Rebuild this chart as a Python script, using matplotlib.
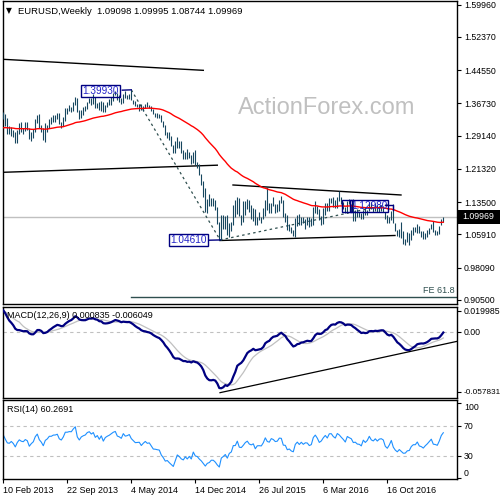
import numpy as np
import pandas as pd
import matplotlib
matplotlib.use("Agg")
import matplotlib.pyplot as plt
from matplotlib.patches import Rectangle

plt.rcParams["font.family"] = ["Liberation Sans", "DejaVu Sans"]

# ---------------- data (weekly EURUSD) ----------------
week_start = "2013-02-10"

close = [
    # 2013
    1.3363, 1.3190, 1.3020, 1.3000, 1.3075, 1.2985, 1.2820, 1.2995, 1.3110, 1.3050,
    1.3030, 1.3115, 1.3070, 1.2835, 1.2930, 1.3000, 1.3220, 1.3345, 1.3120, 1.3010,
    1.2830, 1.3070, 1.3145, 1.3280, 1.3280, 1.3340, 1.3345, 1.3380, 1.3220, 1.3175,
    1.3300, 1.3525, 1.3525, 1.3555, 1.3550, 1.3685, 1.3800, 1.3485, 1.3365, 1.3500,
    1.3555, 1.3590, 1.3705, 1.3745, 1.3675, 1.3740, 1.3590,
    # 2014
    1.3665, 1.3540, 1.3680, 1.3485, 1.3635, 1.3695, 1.3740, 1.3805, 1.3875, 1.3910,
    1.3775, 1.3750, 1.3705, 1.3885, 1.3810, 1.3830, 1.3870, 1.3755, 1.3695, 1.3630,
    1.3635, 1.3640, 1.3545, 1.3600, 1.3645, 1.3595, 1.3605, 1.3525, 1.3430, 1.3425,
    1.3410, 1.3400, 1.3240, 1.3130, 1.2950, 1.2960, 1.2830, 1.2685, 1.2520, 1.2630,
    1.2760, 1.2670, 1.2525, 1.2455, 1.2525, 1.2390, 1.2450, 1.2285, 1.2465, 1.2225,
    1.2185, 1.2000,
    # 2015
    1.1840, 1.1565, 1.1205, 1.1290, 1.1315, 1.1385, 1.1380, 1.1195, 1.0845, 1.0495,
    1.0825, 1.0890, 1.0970, 1.0600, 1.0810, 1.0875, 1.1200, 1.1200, 1.1450, 1.1015,
    1.0985, 1.1110, 1.1265, 1.1350, 1.1165, 1.1110, 1.1165, 1.0830, 1.0980, 1.0985,
    1.0970, 1.1120, 1.1385, 1.1185, 1.1150, 1.1340, 1.1295, 1.1190, 1.1210, 1.1360,
    1.1350, 1.1015, 1.1005, 1.0740, 1.0770, 1.0645, 1.0590, 1.0885, 1.0990, 1.0865,
    1.0965, 1.0860,
    # 2016
    1.0925, 1.0915, 1.0795, 1.0830, 1.1130, 1.1255, 1.1130, 1.0935, 1.1000, 1.1150,
    1.1270, 1.1165, 1.1390, 1.1395, 1.1285, 1.1225, 1.1455, 1.1400, 1.1310, 1.1225,
    1.1115, 1.1365, 1.1315, 1.1275, 1.1115, 1.1130, 1.1050, 1.1040, 1.0975, 1.1175,
    1.1085, 1.1160, 1.1325, 1.1195, 1.1155, 1.1235, 1.1155, 1.1225, 1.1240, 1.1200,
    1.0970, 1.0885, 1.0985, 1.1140, 1.0850, 1.0690, 1.0590, 1.0665, 1.0560, 1.0450,
    1.0455, 1.0520,
    # 2017
    1.0530, 1.0645, 1.0700, 1.0700, 1.0780, 1.0640, 1.0615, 1.0560, 1.0620, 1.0670,
    1.0735, 1.0800, 1.0650, 1.0640, 1.0615, 1.0725, 1.0896, 1.09969,
]

high = [
    # 2013
    1.3480, 1.3415, 1.3320, 1.3135, 1.3110, 1.3055, 1.3005, 1.3045, 1.3205, 1.3245,
    1.3105, 1.3245, 1.3245, 1.3085, 1.2995, 1.3060, 1.3305, 1.3390, 1.3415, 1.3175,
    1.3100, 1.3205, 1.3175, 1.3300, 1.3345, 1.3395, 1.3400, 1.3450, 1.3455, 1.3245,
    1.3345, 1.3570, 1.3555, 1.3645, 1.3585, 1.3705, 1.3830, 1.3805, 1.3520, 1.3515,
    1.3580, 1.3620, 1.3710, 1.3810, 1.3810, 1.3895, 1.3830,
    # 2014
    1.3680, 1.3700, 1.3740, 1.3705, 1.3640, 1.3715, 1.3775, 1.3825, 1.3915, 1.3965,
    1.3920, 1.3875, 1.3810, 1.3905, 1.3965, 1.3870, 1.3905, 1.3993, 1.3765, 1.3735,
    1.3660, 1.3670, 1.3650, 1.3615, 1.3655, 1.3700, 1.3645, 1.3615, 1.3545, 1.3445,
    1.3445, 1.3435, 1.3395, 1.3255, 1.3165, 1.2995, 1.3010, 1.2905, 1.2705, 1.2790,
    1.2885, 1.2800, 1.2790, 1.2570, 1.2535, 1.2600, 1.2530, 1.2455, 1.2530, 1.2570,
    1.2300, 1.2250,
    # 2015
    1.2010, 1.1845, 1.1680, 1.1425, 1.1535, 1.1445, 1.1450, 1.1390, 1.1240, 1.0890,
    1.1045, 1.1050, 1.1035, 1.1040, 1.0850, 1.0895, 1.1290, 1.1390, 1.1465, 1.1445,
    1.1050, 1.1380, 1.1385, 1.1435, 1.1410, 1.1275, 1.1215, 1.1200, 1.0990, 1.1130,
    1.1000, 1.1215, 1.1390, 1.1715, 1.1330, 1.1340, 1.1460, 1.1305, 1.1315, 1.1390,
    1.1495, 1.1395, 1.1095, 1.1045, 1.0830, 1.0760, 1.0690, 1.0980, 1.1045, 1.1060,
    1.0990, 1.0990,
    # 2016
    1.0945, 1.0995, 1.0990, 1.0985, 1.1240, 1.1375, 1.1260, 1.1180, 1.1020, 1.1220,
    1.1340, 1.1340, 1.1440, 1.1440, 1.1465, 1.1395, 1.1460, 1.1615, 1.1475, 1.1345,
    1.1235, 1.1370, 1.1415, 1.1300, 1.1425, 1.1160, 1.1185, 1.1125, 1.1085, 1.1175,
    1.1235, 1.1175, 1.1365, 1.1365, 1.1225, 1.1325, 1.1285, 1.1265, 1.1285, 1.1265,
    1.1125, 1.1040, 1.0990, 1.1145, 1.1300, 1.0870, 1.0690, 1.0715, 1.0875, 1.0675,
    1.0480, 1.0655,
    # 2017
    1.0620, 1.0685, 1.0775, 1.0775, 1.0830, 1.0785, 1.0680, 1.0680, 1.0630, 1.0700,
    1.0745, 1.0830, 1.0905, 1.0690, 1.0680, 1.0780, 1.0950, 1.09995,
]

low = [
    # 2013
    1.3310, 1.3145, 1.2965, 1.2955, 1.2910, 1.2880, 1.2750, 1.2745, 1.2950, 1.2995,
    1.2955, 1.3035, 1.3055, 1.2830, 1.2795, 1.2855, 1.3000, 1.3210, 1.3105, 1.2995,
    1.2805, 1.2755, 1.3010, 1.3100, 1.3200, 1.3230, 1.3230, 1.3310, 1.3200, 1.3105,
    1.3150, 1.3265, 1.3435, 1.3495, 1.3475, 1.3490, 1.3645, 1.3475, 1.3295, 1.3325,
    1.3395, 1.3500, 1.3545, 1.3690, 1.3625, 1.3650, 1.3575,
    # 2014
    1.3575, 1.3525, 1.3505, 1.3480, 1.3475, 1.3580, 1.3640, 1.3640, 1.3730, 1.3860,
    1.3750, 1.3705, 1.3670, 1.3675, 1.3795, 1.3785, 1.3775, 1.3750, 1.3650, 1.3615,
    1.3585, 1.3505, 1.3525, 1.3505, 1.3570, 1.3590, 1.3575, 1.3490, 1.3420, 1.3365,
    1.3335, 1.3330, 1.3235, 1.3130, 1.2920, 1.2860, 1.2810, 1.2680, 1.2500, 1.2500,
    1.2615, 1.2615, 1.2495, 1.2360, 1.2355, 1.2360, 1.2395, 1.2245, 1.2270, 1.2215,
    1.2165, 1.1995,
    # 2015
    1.1755, 1.1460, 1.1115, 1.1100, 1.1270, 1.1270, 1.1260, 1.1175, 1.0840, 1.0461,
    1.0465, 1.0715, 1.0710, 1.0580, 1.0520, 1.0660, 1.0820, 1.1000, 1.1080, 1.1015,
    1.0820, 1.0885, 1.1050, 1.1185, 1.1130, 1.0955, 1.0915, 1.0810, 1.0810, 1.0925,
    1.0850, 1.0955, 1.1015, 1.1155, 1.1085, 1.1100, 1.1260, 1.1105, 1.1125, 1.1150,
    1.1330, 1.1005, 1.0895, 1.0705, 1.0675, 1.0620, 1.0560, 1.0525, 1.0800, 1.0805,
    1.0805, 1.0850,
    # 2016
    1.0710, 1.0805, 1.0775, 1.0800, 1.0810, 1.1090, 1.1070, 1.0930, 1.0805, 1.0825,
    1.1055, 1.1145, 1.1145, 1.1325, 1.1235, 1.1215, 1.1215, 1.1385, 1.1300, 1.1200,
    1.1100, 1.1100, 1.1300, 1.1130, 1.0910, 1.0910, 1.0995, 1.1000, 1.0950, 1.0950,
    1.1045, 1.1045, 1.1135, 1.1185, 1.1125, 1.1140, 1.1125, 1.1120, 1.1150, 1.1120,
    1.0965, 1.0860, 1.0855, 1.0940, 1.0850, 1.0665, 1.0565, 1.0520, 1.0505, 1.0365,
    1.0350, 1.0410,
    # 2017
    1.0340, 1.0455, 1.0575, 1.0655, 1.0620, 1.0630, 1.0520, 1.0490, 1.0495, 1.0525,
    1.0600, 1.0715, 1.0650, 1.0570, 1.0570, 1.0605, 1.0820, 1.08744,
]

last_ohlc = ["1.09098", "1.09995", "1.08744", "1.09969"]

prev_close = 1.3365
ema55_start = 1.309
ema12_start = 1.335
ema26_start = 1.313
rsi_gain_start = 0.0075
rsi_loss_start = 0.0055

price_ticks = [1.59960, 1.52370, 1.44550, 1.36730, 1.29140, 1.21320, 1.13500,
               1.05910, 0.98090, 0.90500]
macd_ticks = [0.019985, 0.0, -0.057831]
macd_tick_labels = ["0.019985", "0.00", "-0.057831"]
rsi_ticks = [100, 70, 30, 0]
date_tick_labels = ["10 Feb 2013", "22 Sep 2013", "4 May 2014", "14 Dec 2014",
                    "26 Jul 2015", "6 Mar 2016", "16 Oct 2016"]

peak_price = 1.39930
low_price = 1.04610
third_price = 1.12980
current_price = 1.09969

# ---------------- indicators ----------------
c = np.array(close)
n = len(c)
dates = pd.date_range(week_start, periods=n, freq="W-SUN")
x = np.arange(n)

def ema(vals, period, start):
    a = 2.0 / (period + 1)
    out = []
    prev = start
    for v in vals:
        prev = prev + a * (v - prev)
        out.append(prev)
    return np.array(out)

ema55 = ema(c, 55, ema55_start)
macd = ema(c, 12, ema12_start) - ema(c, 26, ema26_start)
signal = np.array([macd[max(0, i - 8):i + 1].mean() for i in range(n)])

diff = np.diff(np.concatenate([[prev_close], c]))
ag, al = rsi_gain_start, rsi_loss_start
rsi = []
for d in diff:
    ag = (ag * 13 + max(d, 0)) / 14
    al = (al * 13 + max(-d, 0)) / 14
    rsi.append(100 - 100 / (1 + ag / al))
rsi = np.array(rsi)

# ---------------- figure ----------------
W, H = 500, 500
fig = plt.figure(figsize=(5, 5), dpi=100)
fig.patch.set_facecolor("white")

def rect(l, t, r, b):
    return [l / W, 1 - b / H, (r - l) / W, (b - t) / H]

ax = fig.add_axes(rect(3, 1, 457, 304))
axm = fig.add_axes(rect(3, 307, 457, 398))
axr = fig.add_axes(rect(3, 400, 457, 479))

FS = 6.5
TFS = 6.3
bar_col = "#17475f"
xl = (-0.15, 226.85)
for a in (ax, axm, axr):
    a.set_xlim(*xl)
    for s in a.spines.values():
        s.set_linewidth(1.0)
        s.set_color("black")
    a.yaxis.tick_right()
    a.tick_params(axis="y", direction="out", length=3, width=0.8,
                  labelsize=TFS, pad=2, colors="black")
    a.tick_params(axis="x", bottom=False, labelbottom=False)

# main panel
ax.set_ylim(0.8954, 1.6083)
ax.set_yticks(price_ticks)
ax.set_yticklabels(["%.5f" % v for v in price_ticks])

ax.axhline(current_price, color="#c0c0c0", lw=1.0, zorder=1)
ax.vlines(x, low, high, color=bar_col, lw=0.8, zorder=3)
ax.plot(x, ema55, color="#ff0000", lw=1.0, zorder=4)

line_col = "black"
ax.plot([0, 100], [1.4711, 1.4452], color=line_col, lw=1.0, zorder=2)
ax.plot([0, 107], [1.2053, 1.2220], color=line_col, lw=1.0, zorder=2)
ax.plot([114.85, 198.85], [1.1754, 1.1519], color=line_col, lw=1.0, zorder=2)
ax.plot([108.35, 195.85], [1.0448, 1.0566], color=line_col, lw=1.0, zorder=2)

dash_col = "#2f4f4f"
ax.plot([64, 108.4], [peak_price, low_price], color=dash_col, lw=0.9,
        ls=(0, (2, 2.5)), zorder=2)
ax.plot([108.4, 193], [low_price, third_price], color=dash_col, lw=0.9,
        ls=(0, (2, 2.5)), zorder=2)

fe618 = third_price - 0.618 * (peak_price - low_price)
ax.plot([63.85, 226.85], [fe618, fe618], color=dash_col, lw=1.0, zorder=2)
ax.text(225.8, fe618 + 0.004, "FE 61.8", color="#2f4f4f", fontsize=FS,
        ha="right", va="bottom")

def label_box(xc, yc, txt):
    ax.text(xc, yc, txt, color="#2323c8", fontsize=7.2, ha="center", va="center",
            zorder=6,
            bbox=dict(boxstyle="square,pad=0.12", fc="none", ec="#000080", lw=1.0))

label_box(48.7, 1.3970, "1.39930")
ax.plot([59.5, 64], [1.3985, peak_price], color="#000080", lw=1.0, zorder=6)
label_box(92.5, 1.0455, "1.04610")
ax.plot([103.0, 108.4], [1.0455, low_price], color="#000080", lw=1.0, zorder=6)
label_box(182.9, 1.1265, "1.12980")
ax.add_patch(Rectangle((169.2, 1.1122), 5.1, 0.0285, fill=False, ec="#000080",
                       lw=1.0, zorder=6))
ax.plot([190.9, 195.0, 195.0], [1.1290, 1.1290, 1.1160], color="#000080",
        lw=1.0, zorder=6)

# MACD panel
axm.set_ylim(-0.0636, 0.0237)
axm.axhline(0, color="#c0c0c0", lw=0.8, ls=(0, (3, 3)), zorder=1)
axm.plot(x, signal, color="#c0c0c0", lw=0.9, zorder=2)
axm.plot(x, macd, color="#000080", lw=1.6, zorder=3)
axm.plot([108.35, 227], [-0.0585, -0.0092], color="black", lw=0.9, zorder=4)
axm.set_yticks(macd_ticks)
axm.set_yticklabels(macd_tick_labels)
axm.get_yticklabels()[-1].set_fontsize(5.9)
axm.text(4 / 454, 0.91, "MACD(12,26,9) 0.000835 -0.006049", transform=axm.transAxes,
         fontsize=FS, ha="left", va="center", zorder=5)

# RSI panel
axr.set_ylim(-1.5, 104.5)
axr.axhline(70, color="#c0c0c0", lw=0.8, ls=(0, (3, 3)))
axr.axhline(30, color="#c0c0c0", lw=0.8, ls=(0, (3, 3)))
axr.plot(x, rsi, color="#1e90ff", lw=0.8)
axr.set_yticks(rsi_ticks)
axr.set_yticklabels([str(v) for v in rsi_ticks])
tl = axr.get_yticklabels()
tl[0].set_va("top")
tl[-1].set_va("bottom")
axr.text(4 / 454, 0.875, "RSI(14) 60.2691", transform=axr.transAxes, fontsize=FS,
         ha="left", va="center")

tick_idx = [int(np.where(dates == pd.Timestamp(pd.to_datetime(d)))[0][0])
            for d in date_tick_labels]
axr.tick_params(axis="x", bottom=True, labelbottom=True, direction="out",
                length=3, width=0.8, labelsize=FS, pad=2)
axr.set_xticks(tick_idx)
axr.set_xticklabels(date_tick_labels, ha="left")
axr.set_xlim(*xl)

# header, watermark, current price tag
fig.text(6 / W, 1 - 10.5 / H, "\u25BC", fontsize=5.5, ha="left", va="center",
         family="DejaVu Sans")
fig.text(18 / W, 1 - 11 / H, "EURUSD,Weekly  " + " ".join(last_ohlc),
         fontsize=6.8, ha="left", va="center")
fig.text(238 / W, 1 - 114 / H, "ActionForex.com", fontsize=17,
         color="#c0c0c0", ha="left", va="baseline")
fig.patches.append(Rectangle((458 / W, 1 - 224 / H), 42 / W, 14 / H,
                             transform=fig.transFigure, fc="black", ec="none"))
fig.text(462 / W, 1 - 217 / H, "%.5f" % current_price, color="white",
         fontsize=TFS, ha="left", va="center")

fig.savefig("out.png", dpi=100)
